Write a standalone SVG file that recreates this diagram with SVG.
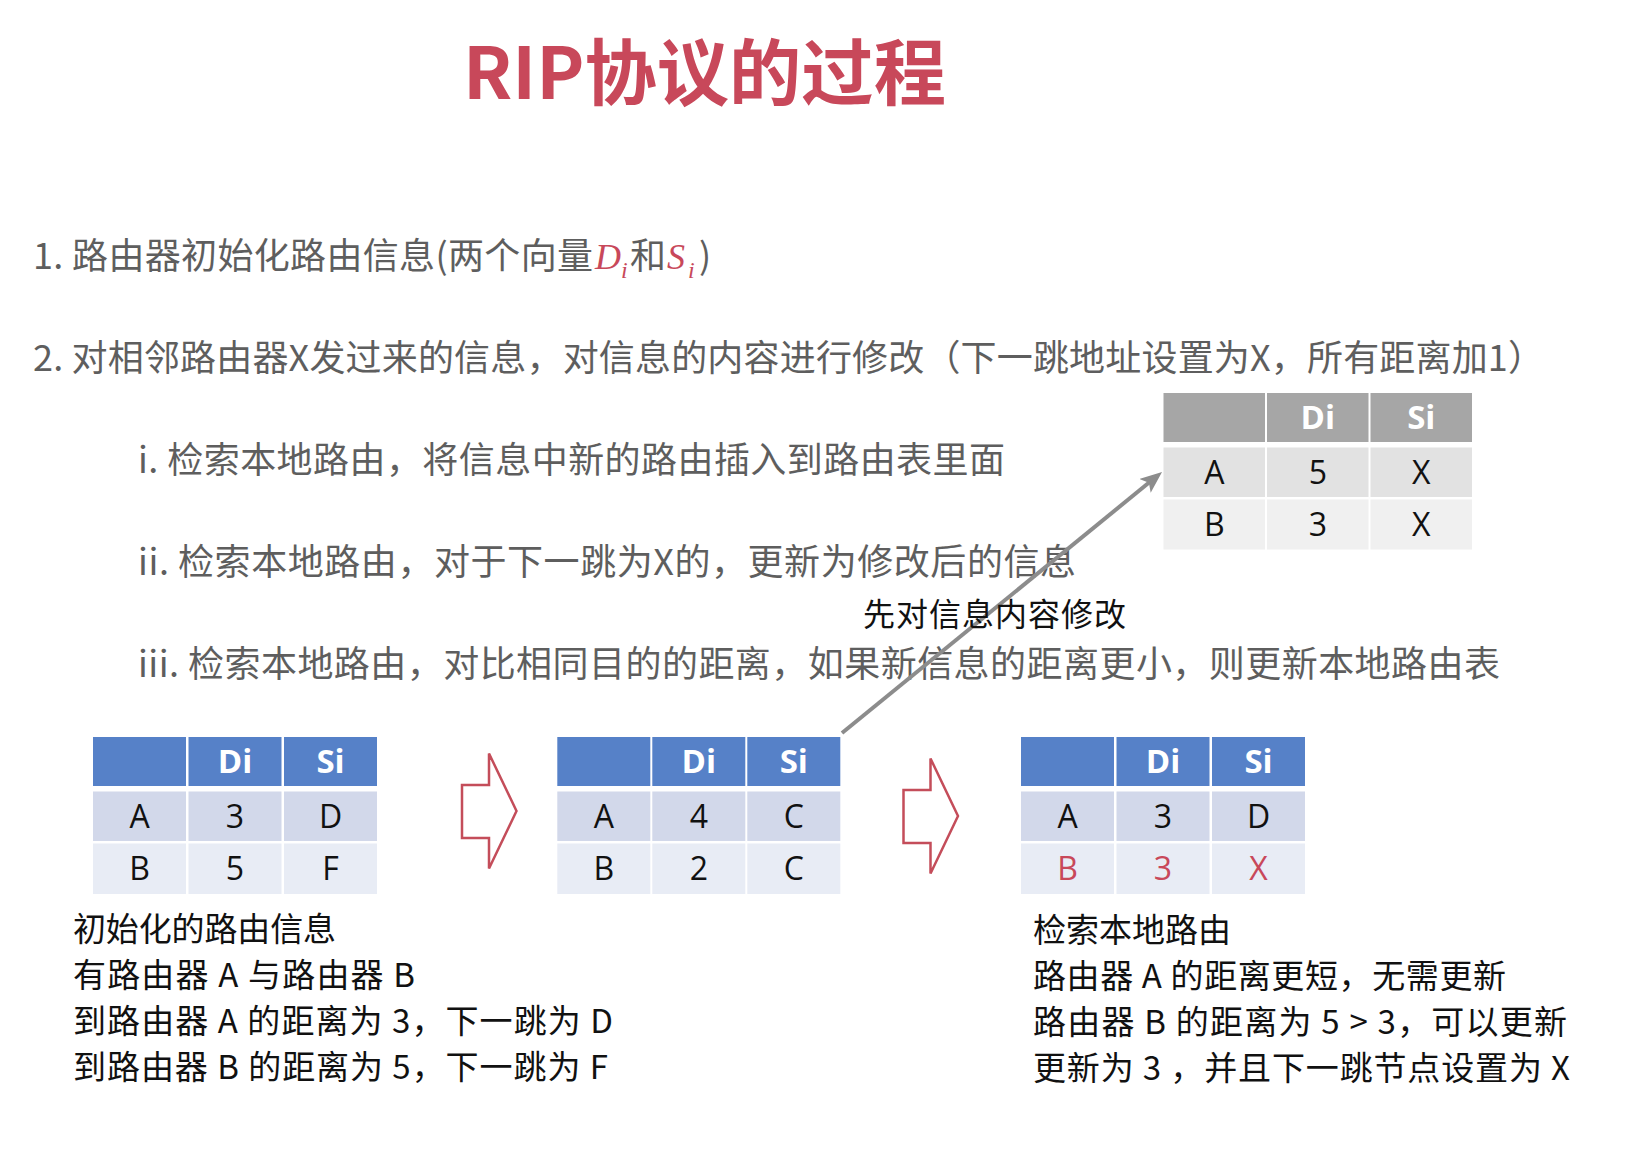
<svg xmlns="http://www.w3.org/2000/svg" width="1638" height="1167" viewBox="0 0 1638 1167">
  <style>
    .title { font-family: "Noto Sans CJK SC", "Noto Sans", sans-serif; font-weight: 700; font-size: 72px; fill: #C8485A; }
    .body { font-family: "Noto Sans CJK SC", "Noto Sans", sans-serif; font-size: 36px; fill: #5E5E5E; }
    .note { font-family: "Noto Sans CJK SC", "Noto Sans", sans-serif; font-size: 33px; fill: #111111; }
    .tip { font-family: "Noto Sans CJK SC", "Noto Sans", sans-serif; font-size: 32px; fill: #111111; }
    .math { font-family: "Liberation Serif", serif; font-style: italic; fill: #C8485A; }
    .hdr { font-family: "Open Sans", "Noto Sans", sans-serif; font-weight: 700; font-size: 33px; fill: #FFFFFF; text-anchor: middle; }
    .cell { font-family: "Open Sans", "Noto Sans", sans-serif; font-size: 32px; fill: #111111; text-anchor: middle; }
    .hot { fill: #C8485A; }
    .bh { fill: #5681C8; }
    .b1 { fill: #D2D8EA; }
    .b2 { fill: #E8ECF5; }
    .gh { fill: #A6A6A6; }
    .g1 { fill: #E2E2E2; }
    .g2 { fill: #F0F0F0; }
    .blockarrow { fill: #FFFFFF; stroke: #C44D5A; stroke-width: 2.5; stroke-linejoin: miter; }
    .link { stroke: #8C8C8C; stroke-width: 4; fill: none; }
  </style>
  <defs>
    <marker id="grayHead" markerUnits="userSpaceOnUse" markerWidth="24" markerHeight="20" refX="12" refY="9" orient="auto">
      <path d="M0,0 L22,9 L0,18 L5,9 z" fill="#8C8C8C"/>
    </marker>
  </defs>

  <rect width="1638" height="1167" fill="#FFFFFF"/>

  <!-- heading -->
  <text id="title" class="title" x="463" y="99" textLength="483" lengthAdjust="spacingAndGlyphs">RIP协议的过程</text>

  <!-- step list -->
  <g id="steps">
    <text class="body" x="33" y="269" textLength="560">1. 路由器初始化路由信息(两个向量</text>
    <text class="math" x="595" y="269" font-size="36">D</text>
    <text class="math" x="621" y="278" font-size="24">i</text>
    <text class="body" x="630" y="269">和</text>
    <text class="math" x="667" y="269" font-size="36">S</text>
    <text class="math" x="688" y="278" font-size="24">i</text>
    <text class="body" x="699" y="269">)</text>

    <text class="body" x="33" y="371" textLength="1511">2. 对相邻路由器X发过来的信息，对信息的内容进行修改（下一跳地址设置为X，所有距离加1）</text>
    <text class="body" x="138" y="473" textLength="867">i. 检索本地路由，将信息中新的路由插入到路由表里面</text>
    <text class="body" x="138" y="575" textLength="938">ii. 检索本地路由，对于下一跳为X的，更新为修改后的信息</text>
    <text class="body" x="138" y="677" textLength="1362">iii. 检索本地路由，对比相同目的的距离，如果新信息的距离更小，则更新本地路由表</text>
  </g>

  <!-- connectors -->
  <g id="connectors">
    <line class="link" x1="842" y1="733" x2="1154.3" y2="478.3" marker-end="url(#grayHead)"/>
    <polygon class="blockarrow" points="462,785 489,785 489,753.5 516.5,811 489,868.5 489,838 462,838"/>
    <polygon class="blockarrow" points="903.5,790 930.5,790 930.5,758.5 958,816 930.5,873.5 930.5,843 903.5,843"/>
  </g>

  <text id="modify-label" class="tip" x="863" y="626" textLength="263">先对信息内容修改</text>

  <!-- received table after modification -->
  <g id="table-received">
    <rect class="gh" x="1163.5" y="393" width="101.5" height="49"/>
    <rect class="gh" x="1267" y="393" width="101.5" height="49"/>
    <rect class="gh" x="1370.5" y="393" width="101.5" height="49"/>
    <rect class="g1" x="1163.5" y="447.5" width="101.5" height="49.5"/>
    <rect class="g1" x="1267" y="447.5" width="101.5" height="49.5"/>
    <rect class="g1" x="1370.5" y="447.5" width="101.5" height="49.5"/>
    <rect class="g2" x="1163.5" y="499.5" width="101.5" height="50"/>
    <rect class="g2" x="1267" y="499.5" width="101.5" height="50"/>
    <rect class="g2" x="1370.5" y="499.5" width="101.5" height="50"/>
    <text class="hdr" x="1317.8" y="429">Di</text>
    <text class="hdr" x="1421.3" y="429">Si</text>
    <text class="cell" x="1214.3" y="484">A</text>
    <text class="cell" x="1317.8" y="484">5</text>
    <text class="cell" x="1421.3" y="484">X</text>
    <text class="cell" x="1214.3" y="536">B</text>
    <text class="cell" x="1317.8" y="536">3</text>
    <text class="cell" x="1421.3" y="536">X</text>
  </g>

  <!-- initial routing table -->
  <g id="table-initial">
    <rect class="bh" x="93" y="737" width="93" height="49"/>
    <rect class="bh" x="188.5" y="737" width="93" height="49"/>
    <rect class="bh" x="284" y="737" width="93" height="49"/>
    <rect class="b1" x="93" y="791.5" width="93" height="49.5"/>
    <rect class="b1" x="188.5" y="791.5" width="93" height="49.5"/>
    <rect class="b1" x="284" y="791.5" width="93" height="49.5"/>
    <rect class="b2" x="93" y="843.5" width="93" height="50.5"/>
    <rect class="b2" x="188.5" y="843.5" width="93" height="50.5"/>
    <rect class="b2" x="284" y="843.5" width="93" height="50.5"/>
    <text class="hdr" x="235" y="773">Di</text>
    <text class="hdr" x="330.5" y="773">Si</text>
    <text class="cell" x="139.5" y="828">A</text>
    <text class="cell" x="235" y="828">3</text>
    <text class="cell" x="330.5" y="828">D</text>
    <text class="cell" x="139.5" y="880">B</text>
    <text class="cell" x="235" y="880">5</text>
    <text class="cell" x="330.5" y="880">F</text>
  </g>

  <!-- neighbour X table -->
  <g id="table-neighbour">
    <rect class="bh" x="557.3" y="737" width="93" height="49"/>
    <rect class="bh" x="652.3" y="737" width="93" height="49"/>
    <rect class="bh" x="747.3" y="737" width="93" height="49"/>
    <rect class="b1" x="557.3" y="791.5" width="93" height="49.5"/>
    <rect class="b1" x="652.3" y="791.5" width="93" height="49.5"/>
    <rect class="b1" x="747.3" y="791.5" width="93" height="49.5"/>
    <rect class="b2" x="557.3" y="843.5" width="93" height="50.5"/>
    <rect class="b2" x="652.3" y="843.5" width="93" height="50.5"/>
    <rect class="b2" x="747.3" y="843.5" width="93" height="50.5"/>
    <text class="hdr" x="698.8" y="773">Di</text>
    <text class="hdr" x="793.8" y="773">Si</text>
    <text class="cell" x="603.8" y="828">A</text>
    <text class="cell" x="698.8" y="828">4</text>
    <text class="cell" x="793.8" y="828">C</text>
    <text class="cell" x="603.8" y="880">B</text>
    <text class="cell" x="698.8" y="880">2</text>
    <text class="cell" x="793.8" y="880">C</text>
  </g>

  <!-- updated routing table -->
  <g id="table-updated">
    <rect class="bh" x="1021" y="737" width="93" height="49"/>
    <rect class="bh" x="1116.5" y="737" width="93" height="49"/>
    <rect class="bh" x="1212" y="737" width="93" height="49"/>
    <rect class="b1" x="1021" y="791.5" width="93" height="49.5"/>
    <rect class="b1" x="1116.5" y="791.5" width="93" height="49.5"/>
    <rect class="b1" x="1212" y="791.5" width="93" height="49.5"/>
    <rect class="b2" x="1021" y="843.5" width="93" height="50.5"/>
    <rect class="b2" x="1116.5" y="843.5" width="93" height="50.5"/>
    <rect class="b2" x="1212" y="843.5" width="93" height="50.5"/>
    <text class="hdr" x="1163" y="773">Di</text>
    <text class="hdr" x="1258.5" y="773">Si</text>
    <text class="cell" x="1067.5" y="828">A</text>
    <text class="cell" x="1163" y="828">3</text>
    <text class="cell" x="1258.5" y="828">D</text>
    <text class="cell hot" x="1067.5" y="880">B</text>
    <text class="cell hot" x="1163" y="880">3</text>
    <text class="cell hot" x="1258.5" y="880">X</text>
  </g>

  <!-- captions -->
  <g id="caption-initial">
    <text class="note" x="73" y="941" textLength="263">初始化的路由信息</text>
    <text class="note" x="73" y="987" textLength="342">有路由器 A 与路由器 B</text>
    <text class="note" x="73" y="1033" textLength="540">到路由器 A 的距离为 3，下一跳为 D</text>
    <text class="note" x="73" y="1079" textLength="535">到路由器 B 的距离为 5，下一跳为 F</text>
  </g>
  <g id="caption-updated">
    <text class="note" x="1033" y="942" textLength="198">检索本地路由</text>
    <text class="note" x="1033" y="988" textLength="473">路由器 A 的距离更短，无需更新</text>
    <text class="note" x="1033" y="1034" textLength="534">路由器 B 的距离为 5 &gt; 3，可以更新</text>
    <text class="note" x="1033" y="1080" textLength="537">更新为 3 ，并且下一跳节点设置为 X</text>
  </g>
</svg>
